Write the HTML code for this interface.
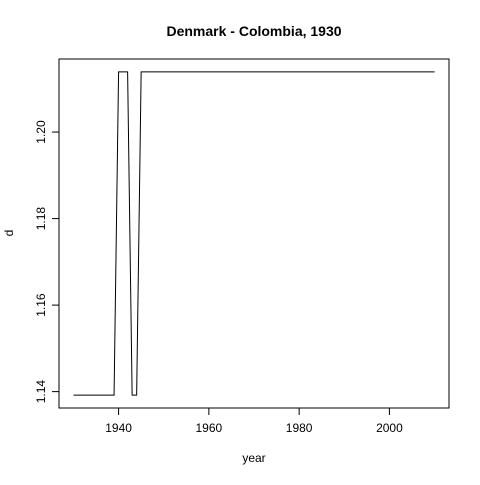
<!DOCTYPE html>
<html><head><meta charset="utf-8"><style>
body{margin:0;background:#fff;}
svg text{font-family:"Liberation Sans",Arial,sans-serif;}
</style></head><body>
<svg id="c" width="480" height="480">
<rect width="480" height="480" fill="#fff"/>
<text x="254" y="36" text-anchor="middle" font-size="14" font-weight="bold">Denmark - Colombia, 1930</text>
<text x="254" y="462" text-anchor="middle" font-size="12">year</text>
<text transform="translate(13,233) rotate(-90)" text-anchor="middle" font-size="12">d</text>
<rect x="59" y="59" width="390" height="349" fill="none" stroke="#000"/>
<g id="xa"></g>
<g id="ya"></g>
<path id="ln" fill="none" stroke="#000" stroke-width="1"/>
</svg>
<script>
const L=1.1392,H=1.2139;
const years=[1930,1931,1932,1933,1934,1935,1936,1937,1938,1939,1940,1941,1942,1943,1944,1945,1946,1947,1948,1949,1950,1951,1952,1953,1954,1955,1956,1957,1958,1959,1960,1961,1962,1963,1964,1965,1966,1967,1968,1969,1970,1971,1972,1973,1974,1975,1976,1977,1978,1979,1980,1981,1982,1983,1984,1985,1986,1987,1988,1989,1990,1991,1992,1993,1994,1995,1996,1997,1998,1999,2000,2001,2002,2003,2004,2005,2006,2007,2008,2009,2010];
const values=[L,L,L,L,L,L,L,L,L,L,H,H,H,L,L,H,H,H,H,H,H,H,H,H,H,H,H,H,H,H,H,H,H,H,H,H,H,H,H,H,H,H,H,H,H,H,H,H,H,H,H,H,H,H,H,H,H,H,H,H,H,H,H,H,H,H,H,H,H,H,H,H,H,H,H,H,H,H,H,H,H];
const xTicks=[1940,1960,1980,2000];
const yTicks=[1.14,1.16,1.18,1.20];
const yLabels=["1.14","1.16","1.18","1.20"];
const ns="http://www.w3.org/2000/svg";
const x0=Math.min(...years),x1=Math.max(...years),px=(x1-x0)*0.04;
const y0=Math.min(...values),y1=Math.max(...values),py=(y1-y0)*0.04;
const X=v=>59+(v-(x0-px))/((x1+px)-(x0-px))*390;
const Y=v=>408-(v-(y0-py))/((y1+py)-(y0-py))*349;
document.getElementById('ln').setAttribute('d',years.map((yr,i)=>(i?'L':'M')+X(yr).toFixed(2)+','+Y(values[i]).toFixed(2)).join(''));
const xa=document.getElementById('xa');
let p=document.createElementNS(ns,'line');
p.setAttribute('x1',X(xTicks[0]));p.setAttribute('x2',X(xTicks[xTicks.length-1]));p.setAttribute('y1',408);p.setAttribute('y2',408);p.setAttribute('stroke','#000');
xa.appendChild(p);
xTicks.forEach(t=>{
 const l=document.createElementNS(ns,'line');
 
 
 l.setAttribute('x1',X(t));l.setAttribute('x2',X(t));l.setAttribute('y1',408);l.setAttribute('y2',415);l.setAttribute('stroke','#000');
 xa.appendChild(l);
 const tx=document.createElementNS(ns,'text');
 
 
 tx.setAttribute('x',X(t));tx.setAttribute('y',432);tx.setAttribute('text-anchor','middle');tx.setAttribute('font-size','12');
 tx.textContent=t;xa.appendChild(tx);
});
const ya=document.getElementById('ya');
p=document.createElementNS(ns,'line');
p.setAttribute('y1',Y(yTicks[0]));p.setAttribute('y2',Y(yTicks[yTicks.length-1]));p.setAttribute('x1',59);p.setAttribute('x2',59);p.setAttribute('stroke','#000');
ya.appendChild(p);
yTicks.forEach((t,i)=>{
 const l=document.createElementNS(ns,'line');
 
 
 l.setAttribute('y1',Y(t));l.setAttribute('y2',Y(t));l.setAttribute('x1',52);l.setAttribute('x2',59);l.setAttribute('stroke','#000');
 ya.appendChild(l);
 const tx=document.createElementNS(ns,'text');
 
 
 tx.setAttribute('transform','translate(45,'+Y(t)+') rotate(-90)');tx.setAttribute('text-anchor','middle');tx.setAttribute('font-size','12');
 tx.textContent=yLabels[i];ya.appendChild(tx);
});
</script>
</body></html>
